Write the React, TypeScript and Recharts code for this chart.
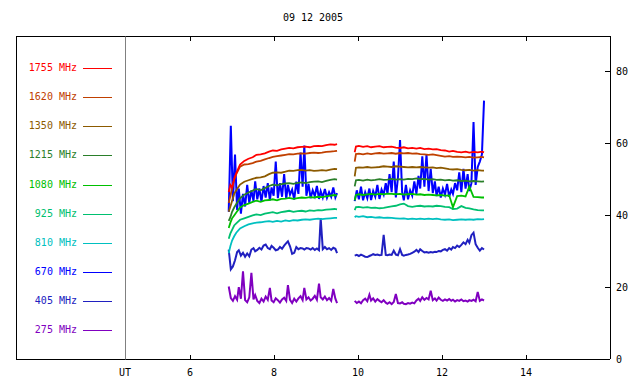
import React from "react";
import { Legend, Line, LineChart, XAxis, YAxis } from "recharts";

const FONT = "'DejaVu Sans Mono', monospace";

const title = "09 12 2005";
const hourTicks = [4.45, 6, 8, 10, 12, 14]; // first one carries the "UT" label
const topTicks = [6, 8, 10, 12, 14];
const levelTicks = [0, 20, 40, 60, 80];

// UT hours, coarse sampling for the smooth channels (9.7 = data gap)
const timesA = [
  6.92, 6.96, 7.0, 7.05, 7.1, 7.19, 7.29, 7.39, 7.49, 7.58, 7.68, 7.78, 7.88, 7.97, 8.07,
  8.17, 8.27, 8.36, 8.46, 8.56, 8.66, 8.75, 8.85, 8.95, 9.05, 9.14, 9.24, 9.34, 9.44, 9.5,
  9.7,
  9.92, 9.95, 10.02, 10.12, 10.22, 10.31, 10.41, 10.51, 10.61, 10.7, 10.8, 10.9, 11.0, 11.09,
  11.19, 11.29, 11.39, 11.48, 11.58, 11.68, 11.78, 11.87, 11.97, 12.07, 12.17, 12.26, 12.36,
  12.46, 12.56, 12.65, 12.75, 12.85, 12.95, 13.0,
];

// UT hours, fine sampling for the noisy channels
const timesB = [
  6.92, 6.97, 7.02, 7.07, 7.12, 7.16, 7.21, 7.26, 7.31, 7.36, 7.41, 7.46, 7.51, 7.55, 7.6,
  7.65, 7.7, 7.75, 7.8, 7.85, 7.9, 7.94, 7.99, 8.04, 8.09, 8.14, 8.19, 8.24, 8.29, 8.33,
  8.38, 8.43, 8.48, 8.53, 8.58, 8.63, 8.68, 8.72, 8.77, 8.82, 8.87, 8.92, 8.97, 9.02, 9.07,
  9.11, 9.16, 9.21, 9.26, 9.31, 9.36, 9.41, 9.46, 9.5,
  9.7,
  9.92, 9.97, 10.02, 10.07, 10.12, 10.17, 10.22, 10.27, 10.31, 10.36, 10.41, 10.46, 10.51,
  10.56, 10.61, 10.66, 10.7, 10.75, 10.8, 10.85, 10.9, 10.95, 11.0, 11.05, 11.09, 11.14,
  11.19, 11.24, 11.29, 11.34, 11.39, 11.44, 11.48, 11.53, 11.58, 11.63, 11.68, 11.73, 11.78,
  11.83, 11.87, 11.92, 11.97, 12.02, 12.07, 12.12, 12.17, 12.22, 12.26, 12.31, 12.36, 12.41,
  12.46, 12.51, 12.56, 12.61, 12.65, 12.7, 12.75, 12.8, 12.85, 12.9, 12.95, 13.0,
];

const mhz1755 = [
  46.5, 48.5, 47.8, 50.2, 51.8, 54.2, 55.2, 55.8, 56.2, 56.9, 57.0, 57.3, 57.8, 58.1, 58.0,
  58.4, 58.6, 58.8, 58.7, 59.0, 59.1, 59.2, 59.0, 59.3, 59.4, 59.3, 59.6, 59.8, 59.7, 59.9,
  null,
  57.6, 59.2, 59.4, 59.1, 59.3, 59.0, 59.2, 59.3, 59.0, 59.1, 59.2, 58.9, 58.8, 59.0, 58.7,
  58.8, 58.6, 58.8, 58.5, 58.6, 58.4, 58.5, 58.2, 58.1, 57.8, 58.0, 57.7, 57.6, 57.8, 57.5,
  57.7, 57.6, 57.8, 57.6,
];
const mhz1620 = [
  43.5, 45.5, 47.5, 50.0, 51.5, 53.6, 54.2, 54.3, 54.6, 55.0, 55.2, 55.6, 56.0, 56.3, 56.5,
  56.7, 56.9, 57.1, 57.0, 57.2, 57.3, 57.2, 57.4, 57.5, 57.4, 57.5, 57.7, 57.8, 57.9, 58.0,
  null,
  55.0, 57.1, 57.2, 57.0, 57.3, 57.1, 57.3, 57.4, 57.2, 57.3, 57.4, 57.2, 57.4, 57.3, 57.4,
  57.2, 57.3, 57.1, 57.0, 56.9, 57.0, 56.8, 56.6, 56.4, 56.5, 56.3, 56.4, 56.3, 56.2, 56.3,
  56.1, 56.2, 56.3, 56.2,
];
const mhz1350 = [
  41.0, 42.5, 44.0, 46.0, 47.0, 48.6, 49.4, 49.8, 50.2, 50.5, 50.6, 50.9, 51.5, 51.9, 52.0,
  51.9, 52.2, 52.5, 52.4, 52.6, 52.7, 52.5, 52.6, 52.4, 52.5, 52.6, 52.5, 52.8, 53.0, 52.9,
  null,
  50.9, 53.3, 53.4, 53.3, 53.5, 53.3, 53.4, 53.5, 53.7, 53.6, 53.5, 53.7, 53.6, 53.5, 53.4,
  53.5, 53.4, 53.5, 53.4, 53.3, 53.4, 53.2, 53.3, 53.1, 52.9, 52.8, 52.9, 52.7, 52.6, 52.7,
  52.5, 52.6, 52.5, 52.5,
];
const mhz1215 = [
  38.5, 39.5, 41.0, 42.2, 43.2, 44.8, 45.8, 46.4, 46.9, 47.4, 47.0, 47.6, 48.2, 48.6, 48.4,
  48.7, 48.9, 49.0, 48.8, 49.1, 49.2, 49.0, 49.3, 49.4, 49.5, 49.3, 49.6, 49.9, 50.1, 50.0,
  null,
  48.1, 49.8, 49.9, 49.7, 50.0, 49.8, 49.9, 50.1, 49.9, 50.0, 50.2, 50.0, 50.1, 50.0, 50.2,
  50.1, 50.3, 50.1, 50.2, 50.0, 50.1, 49.9, 50.0, 49.8, 49.9, 49.7, 49.8, 49.6, 49.7, 49.5,
  49.6, 49.5, 49.4, 49.5,
];
const mhz1080 = [
  36.5, 38.0, 39.2, 40.0, 40.8, 42.2, 42.9, 43.3, 43.8, 44.1, 43.8, 44.2, 44.3, 44.5, 44.2,
  44.6, 44.7, 44.9, 44.6, 44.8, 45.0, 44.9, 45.1, 45.0, 45.2, 45.1, 45.3, 45.5, 45.7, 45.6,
  null,
  44.2, 45.7, 45.9, 45.7, 45.9, 46.0, 45.8, 46.0, 45.9, 46.1, 46.0, 45.9, 46.0, 45.8, 45.9,
  46.0, 45.8, 45.9, 45.7, 45.8, 45.7, 45.6, 45.7, 45.5, 45.6, 42.3, 45.4, 45.5, 45.3, 48.0,
  45.2, 45.1, 45.0, 45.0,
];
const mhz925 = [
  33.5, 35.0, 36.0, 37.2, 37.8, 38.8, 39.2, 39.6, 40.0, 40.3, 40.1, 40.5, 40.7, 40.9, 40.6,
  40.9, 41.1, 41.3, 41.0, 41.2, 41.3, 41.1, 41.4, 41.3, 41.5, 41.4, 41.6, 41.7, 41.8, 41.7,
  null,
  41.5, 42.3, 42.4, 42.2, 42.3, 42.1, 42.2, 42.0, 42.1, 42.3, 42.5, 42.7, 43.1, 43.3, 42.6,
  42.4, 42.6, 42.7, 42.5, 42.6, 42.5, 42.7, 42.6, 42.4, 42.3, 41.8, 41.9, 42.6, 42.1, 42.0,
  41.7, 41.5, 41.4, 41.4,
];
const mhz810 = [
  29.5, 31.5, 33.0, 34.2, 35.2, 36.4, 37.0, 37.5, 37.8, 38.0, 38.1, 38.3, 38.4, 38.2, 38.5,
  38.3, 38.6, 38.4, 38.7, 38.6, 38.8, 38.9, 38.8, 39.0, 39.1, 39.0, 39.1, 39.2, 39.3, 39.3,
  null,
  39.5, 39.8, 39.6, 39.8, 39.5, 39.6, 39.4, 39.5, 39.3, 39.4, 39.3, 39.2, 39.1, 39.2, 39.0,
  39.1, 39.0, 39.1, 39.0, 39.1, 39.0, 39.1, 38.9, 38.8, 38.9, 38.7, 38.8, 38.9, 38.8, 38.9,
  38.8, 39.0, 38.9, 39.0,
];
const mhz670 = [
  41.0, 65.0, 44.0, 57.0, 41.5, 47.5, 40.5, 46.0, 42.5, 48.5,
  43.5, 47.0, 44.0, 49.5, 44.5, 47.5, 43.8, 48.2, 45.0, 49.0,
  44.2, 47.8, 45.5, 55.0, 44.8, 49.0, 45.2, 51.5, 44.6, 48.5,
  45.8, 47.2, 44.4, 49.4, 46.0, 57.5, 48.0, 59.5, 45.5, 48.8,
  44.8, 47.0, 45.4, 48.2, 44.6, 46.8, 45.0, 47.4, 44.9, 46.5,
  45.2, 47.8, 45.0, 46.2,
  null,
  44.0, 47.0, 44.5, 48.0, 44.2, 46.5, 44.8, 47.5, 44.3, 46.8,
  45.2, 48.5, 44.6, 47.2, 45.8, 49.0, 46.0, 51.5, 46.5, 55.0,
  45.0, 50.5, 61.0, 46.5, 44.2, 48.5, 44.5, 47.0, 45.5, 49.5,
  46.0, 51.0, 47.5, 56.5, 48.0, 57.0, 46.8, 53.0, 46.2, 49.5,
  45.4, 48.0, 45.0, 47.5, 45.8, 48.8, 45.2, 47.2, 46.0, 49.0,
  47.0, 52.0, 46.5, 53.0, 47.5, 51.5, 46.8, 49.0, 66.0, 48.5,
  53.5, 55.0, 57.0, 72.0,
];
const mhz405 = [
  30.5, 25.0, 25.8, 27.5, 29.8, 30.3, 28.8, 29.6, 28.5, 29.4,
  28.6, 30.5, 30.9, 30.0, 30.4, 31.0, 30.5, 31.6, 31.9, 30.9,
  30.6, 31.5, 31.0, 30.3, 30.5, 31.2, 30.7, 31.6, 32.3, 32.8,
  31.4, 29.3, 29.6, 31.2, 30.6, 30.9, 30.8, 30.5, 30.9, 30.8,
  30.5, 30.9, 30.4, 30.8, 30.3, 39.3, 30.6, 31.2, 30.6, 30.9,
  30.4, 31.0, 30.7, 29.5,
  null,
  28.8, 29.0, 28.7, 29.1, 28.8, 28.5, 28.4, 28.7, 28.9, 29.2,
  29.0, 29.1, 28.9, 29.0, 34.6, 29.0, 28.9, 29.1, 29.0, 30.2,
  29.1, 28.9, 30.6, 29.0, 28.8, 29.0, 29.1, 29.3, 29.6, 29.9,
  30.4, 29.8, 30.6, 30.1, 29.7, 29.8, 29.6, 29.8, 29.7, 29.9,
  29.8, 30.1, 30.0, 30.4, 30.6, 30.2, 30.9, 30.5, 31.2, 30.9,
  31.6, 31.2, 31.8, 32.5, 32.0, 33.2, 32.4, 34.5, 35.2, 32.0,
  31.0, 30.2, 30.9, 30.5,
];
const mhz275 = [
  20.2, 17.0, 16.2, 17.5, 16.5, 20.0, 16.8, 24.4, 16.4, 15.8,
  17.2, 24.0, 16.6, 17.8, 16.2, 15.6, 16.8, 16.0, 17.4, 16.5,
  19.8, 16.3, 15.8, 16.9, 16.4, 15.7, 16.6, 17.1, 16.2, 20.6,
  16.5, 15.6, 16.8, 16.0, 16.9, 17.5, 16.4, 19.8, 16.6, 17.2,
  16.3, 16.8, 17.6, 16.5, 21.0, 17.2, 16.6, 17.4, 16.4, 17.0,
  16.2, 19.5, 16.8, 15.6,
  null,
  16.2, 15.6, 16.0, 15.5, 16.4, 16.8, 16.1, 17.9, 16.3, 16.9,
  16.0, 16.7, 16.2, 15.8, 16.4, 15.7, 15.4, 15.8, 15.3, 15.9,
  18.1, 15.6, 15.5, 15.8, 15.4, 15.3, 15.6, 15.4, 15.7, 15.5,
  16.3, 16.8, 16.2, 17.2, 16.5, 17.0, 16.6, 19.0, 16.4, 16.9,
  16.3, 17.1, 16.5, 16.2, 16.6, 16.3, 16.7, 16.2, 16.5, 16.0,
  16.4, 16.2, 16.6, 16.1, 16.3, 16.0, 16.4, 16.2, 16.5, 16.1,
  18.7, 16.2, 16.6, 16.3,
];

// legend order (top to bottom)
const channels = [
  { name: "1755 MHz", color: "#ff0000", times: timesA, values: mhz1755 },
  { name: "1620 MHz", color: "#c04000", times: timesA, values: mhz1620 },
  { name: "1350 MHz", color: "#8c5a00", times: timesA, values: mhz1350 },
  { name: "1215 MHz", color: "#2a7f2a", times: timesA, values: mhz1215 },
  { name: "1080 MHz", color: "#00c000", times: timesA, values: mhz1080 },
  { name: "925 MHz", color: "#00c070", times: timesA, values: mhz925 },
  { name: "810 MHz", color: "#00c0c0", times: timesA, values: mhz810 },
  { name: "670 MHz", color: "#0000ff", times: timesB, values: mhz670 },
  { name: "405 MHz", color: "#2020c0", times: timesB, values: mhz405 },
  { name: "275 MHz", color: "#8000c0", times: timesB, values: mhz275 },
];

const toPoints = (times: number[], values: (number | null)[]) =>
  times.map((t, i) => ({ t, v: values[i] }));

const BottomTick = ({ x, y, payload }: any) => {
  const first = payload.value === hourTicks[0];
  return (
    <g>
      {!first && (
        <line x1={x} y1={y - 4} x2={x} y2={y} stroke="#000" shapeRendering="crispEdges" />
      )}
      <text x={x} y={y + 17} textAnchor="middle" fontSize={10} fontFamily={FONT} fill="#000">
        {first ? "UT" : payload.value}
      </text>
    </g>
  );
};

const TopTick = ({ x, y }: any) => (
  <line x1={x} y1={y} x2={x} y2={y + 5} stroke="#000" shapeRendering="crispEdges" />
);

const RightTick = ({ x, y, payload }: any) => (
  <g>
    <line x1={x - 5} y1={y} x2={x} y2={y} stroke="#000" shapeRendering="crispEdges" />
    <text x={x + 6} y={y} dy={3.5} fontSize={10} fontFamily={FONT} fill="#000">
      {payload.value}
    </text>
  </g>
);

const LegendPanel = () => (
  <div
    style={{
      position: "relative",
      width: 110,
      height: 324,
      boxSizing: "border-box",
      borderLeft: "1px solid #000",
      borderTop: "1px solid #000",
      borderBottom: "1px solid #000",
      borderRight: "1px solid #808080",
      fontFamily: FONT,
      fontSize: 10,
    }}
  >
    {channels.map((c, i) => (
      <div
        key={c.name}
        style={{ position: "absolute", left: 0, top: 25 + i * 29.15, width: 110, height: 12 }}
      >
        <span
          style={{
            position: "absolute",
            left: 0,
            width: 60,
            textAlign: "right",
            lineHeight: "12px",
            color: c.color,
            whiteSpace: "pre",
          }}
        >
          {c.name}
        </span>
        <span
          style={{
            position: "absolute",
            left: 66,
            top: 6,
            width: 29,
            height: 1,
            background: c.color,
          }}
        />
      </div>
    ))}
  </div>
);

export default function App() {
  // draw low frequencies first so the high ones sit on top
  const drawOrder = [...channels].reverse();
  return (
    <div style={{ position: "absolute", left: 0, top: 0, width: 640, height: 384, background: "#fff" }}>
      <div
        style={{
          position: "absolute",
          left: 0,
          top: 11,
          width: 626,
          textAlign: "center",
          fontFamily: FONT,
          fontSize: 10,
          lineHeight: "14px",
        }}
      >
        {title}
      </div>
      <LineChart width={640} height={384} margin={{ top: 35, right: 0, bottom: 0, left: 125 }}>
        <XAxis
          dataKey="t"
          type="number"
          domain={[4.45, 16]}
          ticks={hourTicks}
          interval={0}
          height={25}
          allowDataOverflow
          tickSize={0}
          tickMargin={0}
          tickLine={false}
          tick={<BottomTick />}
          axisLine={{ stroke: "#000", shapeRendering: "crispEdges" }}
        />
        <XAxis
          xAxisId="top"
          orientation="top"
          dataKey="t"
          type="number"
          domain={[4.45, 16]}
          ticks={topTicks}
          interval={0}
          height={1}
          allowDataOverflow
          tickSize={0}
          tickMargin={0}
          tickLine={false}
          tick={<TopTick />}
          axisLine={{ stroke: "#000", shapeRendering: "crispEdges" }}
        />
        <YAxis
          orientation="right"
          type="number"
          domain={[0, 90]}
          ticks={levelTicks}
          interval={0}
          width={30}
          allowDataOverflow
          tickSize={0}
          tickMargin={0}
          tickLine={false}
          tick={<RightTick />}
          axisLine={{ stroke: "#000", shapeRendering: "crispEdges" }}
        />
        <Legend
          content={<LegendPanel />}
          layout="vertical"
          align="center"
          verticalAlign="middle"
          wrapperStyle={{ left: 16, top: 36, width: 110, height: 324 }}
        />
        {drawOrder.map((c) => (
          <Line
            key={c.name}
            name={c.name}
            data={toPoints(c.times, c.values)}
            dataKey="v"
            stroke={c.color}
            strokeWidth={c.times === timesB ? 2 : 1.8}
            dot={false}
            activeDot={false}
            isAnimationActive={false}
          />
        ))}
      </LineChart>
    </div>
  );
}
